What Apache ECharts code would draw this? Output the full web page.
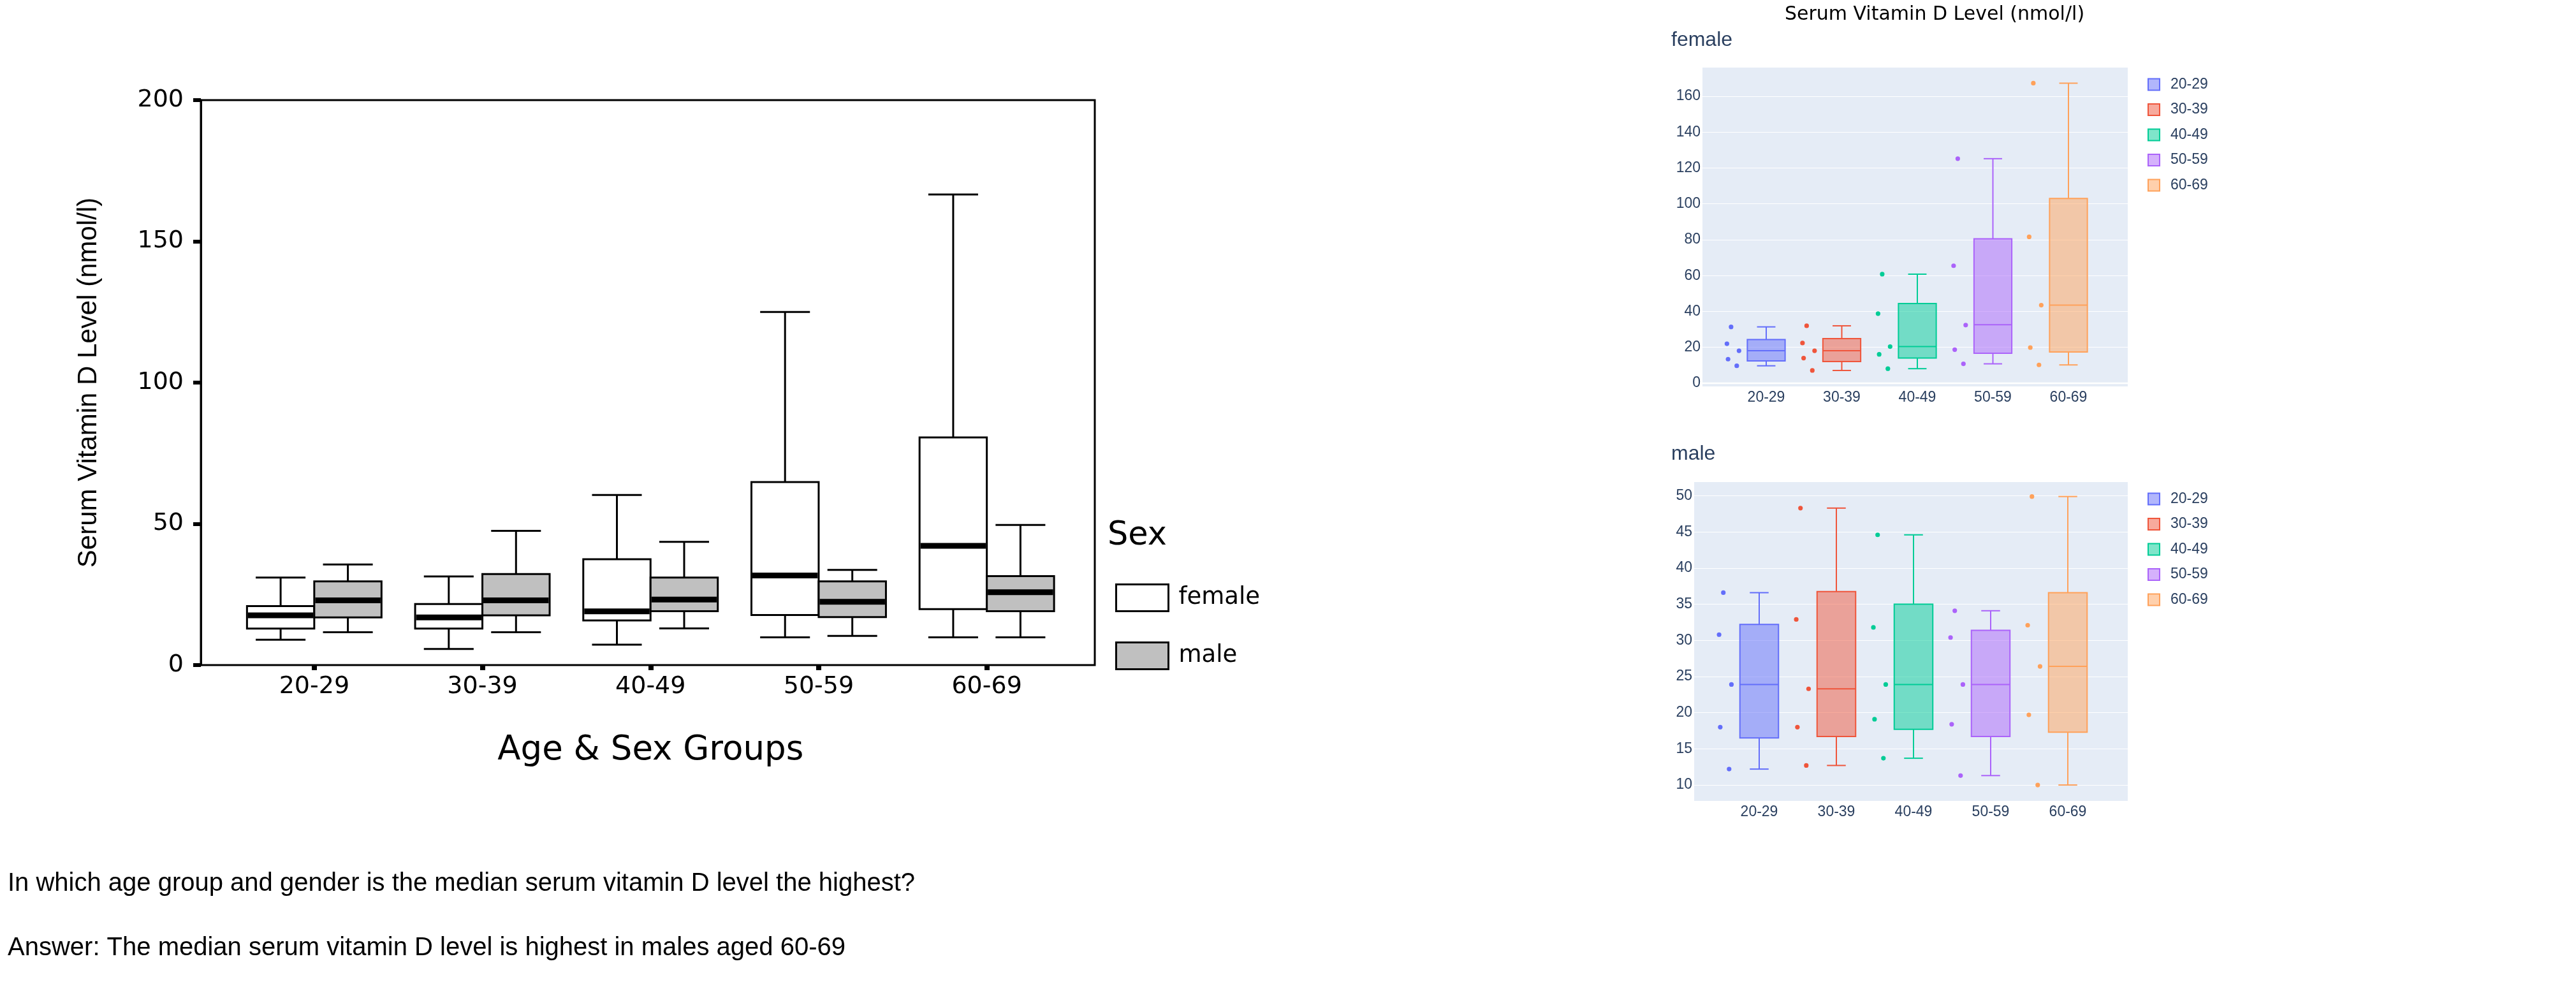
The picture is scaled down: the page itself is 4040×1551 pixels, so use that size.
<!DOCTYPE html>
<html><head><meta charset="utf-8">
<script src="https://cdn.jsdelivr.net/npm/echarts@6/dist/echarts.min.js"></script>
<style>html,body{margin:0;padding:0;background:#fff}#c{width:4040px;height:1551px}</style>
</head><body><div id="c"></div>
<script>
// ---------- data ----------
const ageGroups = ['20-29', '30-39', '40-49', '50-59', '60-69'];
const sexes = ['female', 'male'];
const leftYTicks = [0, 50, 100, 150, 200];
// SPSS style chart: [low whisker, Q1, median, Q3, high whisker]
const spssFemale = [
  [9.0, 12.9, 17.6, 20.9, 31.0],
  [5.7, 12.9, 16.9, 21.6, 31.4],
  [7.2, 15.8, 19.0, 37.5, 60.2],
  [9.8, 17.7, 31.7, 64.8, 125.0],
  [9.8, 19.8, 42.2, 80.6, 166.6]
];
const spssMale = [
  [11.6, 16.9, 22.9, 29.6, 35.6],
  [11.6, 17.6, 22.9, 32.2, 47.5],
  [13.0, 19.1, 23.2, 31.0, 43.6],
  [10.3, 17.0, 22.4, 29.6, 33.7],
  [9.8, 19.1, 25.8, 31.5, 49.6]
];
// plotly style chart
const femaleBox = [
  [9.7, 12.4, 18.1, 24.3, 31.4],
  [7.1, 12.1, 18.1, 24.9, 32.0],
  [8.1, 14.0, 20.4, 44.4, 60.8],
  [10.8, 16.7, 32.6, 80.5, 125.2],
  [10.2, 17.4, 43.5, 103.0, 167.3]
];
const femalePoints = [
  [31.4, 22.0, 18.1, 13.4, 9.7],
  [32.0, 22.4, 18.1, 14.0, 7.1],
  [60.8, 38.8, 20.4, 16.1, 8.1],
  [125.2, 65.5, 32.4, 18.7, 10.8],
  [167.3, 81.6, 43.5, 19.9, 10.2]
];
const maleBox = [
  [12.2, 16.5, 23.9, 32.2, 36.6],
  [12.7, 16.7, 23.3, 36.75, 48.3],
  [13.7, 17.7, 23.9, 35.0, 44.6],
  [11.3, 16.7, 23.9, 31.4, 34.1],
  [10.0, 17.3, 26.4, 36.6, 49.9]
];
const malePoints = [
  [36.6, 30.8, 23.9, 18.0, 12.2],
  [48.3, 32.9, 23.3, 18.0, 12.7],
  [44.6, 31.8, 23.9, 19.1, 13.7],
  [34.1, 30.4, 23.9, 18.4, 11.3],
  [49.9, 32.1, 26.4, 19.7, 10.0]
];
const zeroLine = 0;

// ---------- styles / layout ----------
const plotlyColors = ['#636efa', '#EF553B', '#00cc96', '#ab63fa', '#FFA15A'];
const plotlyFills = ['rgba(99,110,250,0.5)', 'rgba(239,85,59,0.5)', 'rgba(0,204,150,0.5)', 'rgba(171,99,250,0.5)', 'rgba(255,161,90,0.5)'];
const pointJitter = [-0.465, -0.52, -0.36, -0.505, -0.39]; // fraction of category band
const PL = '#2a3f5f';

function spssRender(offsetFrac, fill) {
  return function (params, api) {
    const x = api.value(0);
    const band = api.size([1, 0])[0];
    const cx = api.coord([x, 0])[0] + offsetFrac * band;
    const y = k => api.coord([x, api.value(k)])[1];
    const yLow = y(1), yQ1 = y(2), yMed = y(3), yQ3 = y(4), yHigh = y(5);
    const hw = 0.2 * band, cw = 0.148 * band;
    const ls = { stroke: '#000', lineWidth: 3 };
    return {
      type: 'group', children: [
        { type: 'line', shape: { x1: cx, y1: yQ3, x2: cx, y2: yHigh }, style: ls },
        { type: 'line', shape: { x1: cx, y1: yQ1, x2: cx, y2: yLow }, style: ls },
        { type: 'line', shape: { x1: cx - cw, y1: yHigh, x2: cx + cw, y2: yHigh }, style: ls },
        { type: 'line', shape: { x1: cx - cw, y1: yLow, x2: cx + cw, y2: yLow }, style: ls },
        { type: 'rect', shape: { x: cx - hw, y: yQ3, width: 2 * hw, height: yQ1 - yQ3 }, style: { fill: fill, stroke: '#000', lineWidth: 3 } },
        { type: 'line', shape: { x1: cx - hw + 1.5, y1: yMed, x2: cx + hw - 1.5, y2: yMed }, style: { stroke: '#000', lineWidth: 9 } }
      ]
    };
  };
}

function plotlyRender(ci) {
  return function (params, api) {
    const x = api.value(0);
    const band = api.size([1, 0])[0];
    const cx = api.coord([x, 0])[0];
    const y = k => api.coord([x, api.value(k)])[1];
    const yLow = y(1), yQ1 = y(2), yMed = y(3), yQ3 = y(4), yHigh = y(5);
    const hw = band * 0.25, cw = band * 0.122;
    const stroke = plotlyColors[ci];
    const ls = { stroke: stroke, lineWidth: 2 };
    const children = [
      { type: 'line', shape: { x1: cx, y1: yQ3, x2: cx, y2: yHigh }, style: ls },
      { type: 'line', shape: { x1: cx, y1: yQ1, x2: cx, y2: yLow }, style: ls },
      { type: 'line', shape: { x1: cx - cw, y1: yHigh, x2: cx + cw, y2: yHigh }, style: ls },
      { type: 'line', shape: { x1: cx - cw, y1: yLow, x2: cx + cw, y2: yLow }, style: ls },
      { type: 'rect', shape: { x: cx - hw, y: yQ3, width: 2 * hw, height: yQ1 - yQ3 }, style: { fill: plotlyFills[ci], stroke: stroke, lineWidth: 2 } },
      { type: 'line', shape: { x1: cx - hw, y1: yMed, x2: cx + hw, y2: yMed }, style: ls }
    ];
    for (let k = 0; k < 5; k++) {
      children.push({ type: 'circle', shape: { cx: cx + pointJitter[k] * band, cy: y(6 + k), r: 3.6 }, style: { fill: stroke } });
    }
    return { type: 'group', children: children };
  };
}

function zeroRender(params, api) {
  const yy = api.coord([0.5, api.value(1)])[1];
  const cs = params.coordSys;
  return { type: 'line', shape: { x1: cs.x, y1: yy, x2: cs.x + cs.width, y2: yy }, style: { stroke: '#fff', lineWidth: 2.5 } };
}

const chart = echarts.init(document.getElementById('c'), null, { renderer: 'canvas' });

const plotlyYLabel = { color: PL, fontSize: 23, fontFamily: 'Liberation Sans', margin: 3, showMinLabel: false, showMaxLabel: false };
const plotlyXLabel = { color: PL, fontSize: 23, fontFamily: 'Liberation Sans', margin: 6, interval: 0 };

const series = [];
series.push({
  type: 'custom', name: 'female', xAxisIndex: 1, yAxisIndex: 1, z: 3,
  itemStyle: { color: '#ffffff', borderColor: '#000', borderWidth: 3 },
  encode: { x: 0, y: [1, 2, 3, 4, 5] },
  data: ageGroups.map((g, i) => [i].concat(spssFemale[i])),
  renderItem: spssRender(-0.2, '#ffffff')
});
series.push({
  type: 'custom', name: 'male', xAxisIndex: 1, yAxisIndex: 1, z: 3,
  itemStyle: { color: '#c0c0c0', borderColor: '#000', borderWidth: 3 },
  encode: { x: 0, y: [1, 2, 3, 4, 5] },
  data: ageGroups.map((g, i) => [i].concat(spssMale[i])),
  renderItem: spssRender(0.2, '#c0c0c0')
});
series.push({
  type: 'custom', name: 'zero', xAxisIndex: 2, yAxisIndex: 2, silent: true, z: 1,
  data: [[0.5, zeroLine]], encode: { x: 0, y: 1 }, renderItem: zeroRender
});
ageGroups.forEach((g, i) => {
  series.push({
    type: 'custom', name: g, xAxisIndex: 3, yAxisIndex: 3, z: 3,
    itemStyle: { color: plotlyFills[i], borderColor: plotlyColors[i], borderWidth: 2 },
    encode: { x: 0, y: [1, 2, 3, 4, 5] },
    data: [[i].concat(femaleBox[i], femalePoints[i])],
    renderItem: plotlyRender(i)
  });
});
ageGroups.forEach((g, i) => {
  series.push({
    type: 'custom', name: g, xAxisIndex: 5, yAxisIndex: 5, z: 3,
    itemStyle: { color: plotlyFills[i], borderColor: plotlyColors[i], borderWidth: 2 },
    encode: { x: 0, y: [1, 2, 3, 4, 5] },
    data: [[i].concat(maleBox[i], malePoints[i])],
    renderItem: plotlyRender(i)
  });
});

const plotlyLegendData = ageGroups.map((g, i) => ({
  name: g, icon: 'rect',
  itemStyle: { color: plotlyFills[i], borderColor: plotlyColors[i], borderWidth: 2 }
}));

const option = {
  animation: false,
  backgroundColor: '#ffffff',
  grid: [
    { left: 315, top: 157, width: 1402, height: 886, show: true, borderColor: '#000', borderWidth: 3, backgroundColor: 'transparent' },
    { left: 361, top: 157, width: 1318.5, height: 886 },
    { left: 2670, top: 106, width: 667, height: 500, show: true, borderWidth: 0, backgroundColor: '#E5ECF6' },
    { left: 2710.75, top: 106, width: 592.5, height: 500 },
    { left: 2657, top: 756, width: 680, height: 500, show: true, borderWidth: 0, backgroundColor: '#E5ECF6' },
    { left: 2698.5, top: 756, width: 605, height: 500 }
  ],
  xAxis: [
    { type: 'value', gridIndex: 0, show: false, min: 0, max: 1 },
    {
      type: 'category', gridIndex: 1, data: ageGroups, boundaryGap: true,
      axisLine: { show: false },
      axisTick: { show: true, alignWithLabel: true, length: 8, lineStyle: { color: '#000', width: 8 } },
      axisLabel: { color: '#000', fontSize: 38, fontFamily: 'DejaVu Sans', margin: 15, interval: 0 },
      splitLine: { show: false },
      name: 'Age & Sex Groups', nameLocation: 'middle', nameGap: 108,
      nameTextStyle: { color: '#000', fontSize: 53, fontFamily: 'DejaVu Sans' }
    },
    { type: 'value', gridIndex: 2, show: false, min: 0, max: 1 },
    { type: 'category', gridIndex: 3, data: ageGroups, axisLine: { show: false }, axisTick: { show: false }, axisLabel: plotlyXLabel },
    { type: 'value', gridIndex: 4, show: false, min: 0, max: 1 },
    { type: 'category', gridIndex: 5, data: ageGroups, axisLine: { show: false }, axisTick: { show: false }, axisLabel: plotlyXLabel }
  ],
  yAxis: [
    {
      type: 'value', gridIndex: 0, min: leftYTicks[0], max: leftYTicks[leftYTicks.length - 1], interval: 50,
      axisLine: { show: true, lineStyle: { color: '#000', width: 3 } },
      axisTick: { show: true, inside: false, length: 12, lineStyle: { color: '#000', width: 6 } },
      axisLabel: { color: '#000', fontSize: 38, fontFamily: 'DejaVu Sans', margin: 27 },
      splitLine: { show: false },
      name: 'Serum Vitamin D Level (nmol/l)', nameLocation: 'middle', nameGap: 155,
      nameTextStyle: { color: '#000', fontSize: 42, fontFamily: 'Liberation Sans' }
    },
    { type: 'value', gridIndex: 1, min: 0, max: 200, show: false },
    {
      type: 'value', gridIndex: 2, min: -1.8, max: 176, splitNumber: 9, minInterval: 20, maxInterval: 20,
      axisLine: { show: false }, axisTick: { show: false }, axisLabel: plotlyYLabel,
      splitLine: { show: true, showMinLine: false, showMaxLine: false, lineStyle: { color: '#ffffff', width: 1.2 } }
    },
    { type: 'value', gridIndex: 3, min: -1.8, max: 176, show: false },
    {
      type: 'value', gridIndex: 4, min: 7.8, max: 51.9, splitNumber: 9, minInterval: 5, maxInterval: 5,
      axisLine: { show: false }, axisTick: { show: false }, axisLabel: plotlyYLabel,
      splitLine: { show: true, showMinLine: false, showMaxLine: false, lineStyle: { color: '#ffffff', width: 1.2 } }
    },
    { type: 'value', gridIndex: 5, min: 7.8, max: 51.9, show: false }
  ],
  legend: [
    {
      orient: 'vertical', left: 1749, top: 915, padding: 0, itemWidth: 82, itemHeight: 42, itemGap: 46,
      textStyle: { color: '#000', fontSize: 37, fontFamily: 'DejaVu Sans', padding: [0, 0, 0, 11] },
      data: [
        { name: 'female', icon: 'rect', itemStyle: { color: '#ffffff', borderColor: '#000', borderWidth: 3 } },
        { name: 'male', icon: 'rect', itemStyle: { color: '#c0c0c0', borderColor: '#000', borderWidth: 3 } }
      ]
    },
    {
      orient: 'vertical', left: 3368, top: 121, padding: 0, itemWidth: 18, itemHeight: 18, itemGap: 16.5,
      textStyle: { color: PL, fontSize: 23, lineHeight: 18, fontFamily: 'Liberation Sans', padding: [0, 0, 0, 12] },
      data: plotlyLegendData
    },
    {
      orient: 'vertical', left: 3368, top: 771, padding: 0, itemWidth: 18, itemHeight: 18, itemGap: 16.5,
      textStyle: { color: PL, fontSize: 23, lineHeight: 18, fontFamily: 'Liberation Sans', padding: [0, 0, 0, 12] },
      data: plotlyLegendData
    }
  ],
  graphic: [
    { type: 'text', x: 1737, y: 841, style: { text: 'Sex', fill: '#000', fontSize: 51, fontFamily: 'DejaVu Sans', align: 'left', verticalAlign: 'middle' } },
    { type: 'text', x: 3034, y: 23, style: { text: 'Serum Vitamin D Level (nmol/l)', fill: '#000', fontSize: 30, fontFamily: 'DejaVu Sans', align: 'center', verticalAlign: 'middle' } },
    { type: 'text', x: 2621, y: 63, style: { text: sexes[0], fill: PL, fontSize: 32, fontFamily: 'Liberation Sans', align: 'left', verticalAlign: 'middle' } },
    { type: 'text', x: 2621, y: 712, style: { text: sexes[1], fill: PL, fontSize: 32, fontFamily: 'Liberation Sans', align: 'left', verticalAlign: 'middle' } },
    { type: 'text', x: 12, y: 1386, style: { text: 'In which age group and gender is the median serum vitamin D level the highest?', fill: '#000', fontSize: 40, fontFamily: 'Liberation Sans', align: 'left', verticalAlign: 'middle' } },
    { type: 'text', x: 12, y: 1487, style: { text: 'Answer: The median serum vitamin D level is highest in males aged 60-69', fill: '#000', fontSize: 40, fontFamily: 'Liberation Sans', align: 'left', verticalAlign: 'middle' } }
  ],
  series: series
};
chart.setOption(option);
</script>
</body></html>
